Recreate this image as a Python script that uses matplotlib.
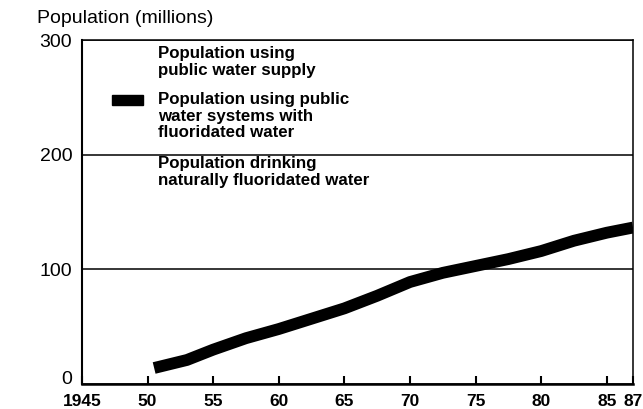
import matplotlib
matplotlib.use("Agg")
import matplotlib.pyplot as plt
from matplotlib.patches import Rectangle
from matplotlib.transforms import ScaledTranslation

plt.rcParams['font.family'] = ['Liberation Sans', 'DejaVu Sans']

# population on fluoridated public water systems (millions)
years = [1950.5, 1953, 1955, 1957.5, 1960, 1962.5, 1965, 1967.5, 1970,
         1972.5, 1975, 1977.5, 1980, 1982.5, 1985, 1987]
fluoridated = [14, 21, 30, 40, 48, 57, 66, 77, 89,
               97, 103, 109, 116, 125, 132, 136.5]

x_ticks = [1945, 1950, 1955, 1960, 1965, 1970, 1975, 1980, 1985, 1987]
x_labels = ['1945', '50', '55', '60', '65', '70', '75', '80', '85', '87']
y_ticks = [0, 100, 200, 300]

legend_texts = [
    "Population using\npublic water supply",
    "Population using public\nwater systems with\nfluoridated water",
    "Population drinking\nnaturally fluoridated water",
]


def main():
    fig = plt.figure(figsize=(6.43, 4.09), dpi=100)
    ax = fig.add_axes([0.1275, 0.061, 0.857, 0.841])

    ax.plot(years, fluoridated, color='black', lw=8.5, solid_capstyle='butt',
            solid_joinstyle='round')

    ax.set_xlim(1945, 1987)
    ax.set_ylim(0, 300)
    ax.set_xticks(x_ticks)
    ax.set_xticklabels(x_labels, fontsize=12.5, fontweight='bold')
    ax.set_yticks(y_ticks)
    ax.set_yticklabels([str(v) for v in y_ticks], fontsize=14)

    ax.tick_params(axis='x', direction='in', length=5.5, width=1.5, pad=7)
    ax.tick_params(axis='y', length=0, pad=7)

    # the "0" sits a bit above the axis line in the original
    zero = ax.get_yticklabels()[0]
    zero.set_transform(zero.get_transform() +
                       ScaledTranslation(0, 5 / 72, fig.dpi_scale_trans))

    ax.grid(axis='y', color='black', lw=1.1)
    ax.spines['left'].set_linewidth(1.5)
    ax.spines['bottom'].set_linewidth(1.8)
    ax.spines['top'].set_linewidth(1.1)
    ax.spines['right'].set_linewidth(1.1)

    # legend drawn by hand
    tops = [0.982, 0.848, 0.662]
    for txt, top in zip(legend_texts, tops):
        ax.text(0.138, top, txt, transform=ax.transAxes, va='top', ha='left',
                fontsize=12.2, fontweight='bold', linespacing=1.12)
    ax.add_patch(Rectangle((0.054, 0.811), 0.056, 0.029, transform=ax.transAxes,
                           color='black', clip_on=False))

    fig.text(0.0575, 0.944, "Population (millions)", fontsize=14, va='baseline')

    fig.savefig('out.png', dpi=100)


if __name__ == '__main__':
    main()
